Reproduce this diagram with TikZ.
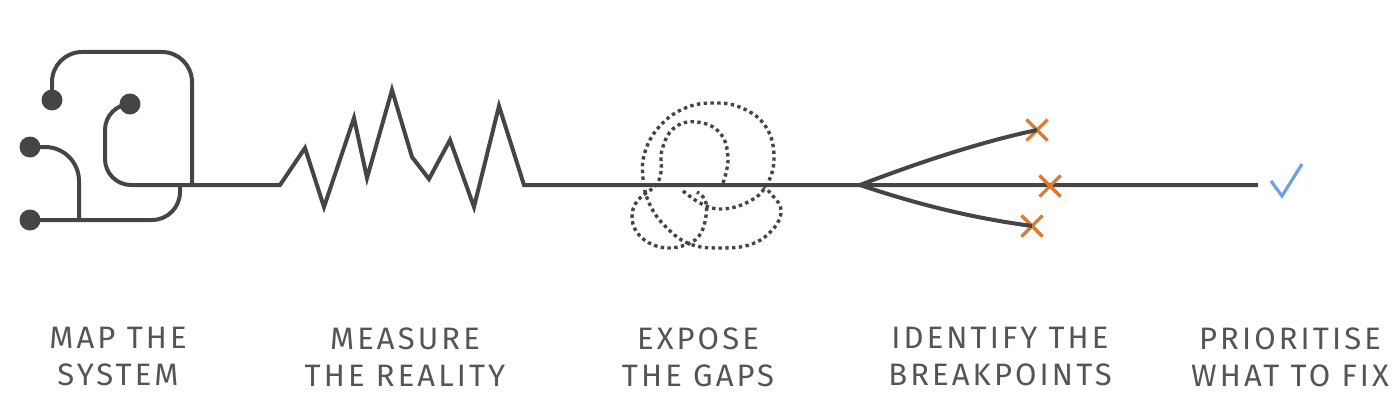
\documentclass[tikz,border=0pt]{standalone}
\usepackage{fontspec}
\setmainfont{Fira Sans}[LetterSpace=10]
\usetikzlibrary{shapes.misc}
\definecolor{ink}{HTML}{454545}
\definecolor{txt}{HTML}{555555}
\definecolor{warn}{HTML}{DF7A30}
\definecolor{ok}{HTML}{6FA3DD}
\begin{document}
\begin{tikzpicture}[x=1pt,y=-1pt,
  wire/.style={draw=ink,line width=4pt},
  knot/.style={draw=ink,line width=3.4pt,dash pattern=on 3.4pt off 3.4pt},
  dot/.style={circle,fill=ink,inner sep=0pt,minimum size=21pt},
  xmark/.style={cross out,draw=warn,line width=3.2pt,inner sep=0pt,minimum size=18pt},
  tick/.style={draw=ok,line width=3.2pt},
  lbl/.style={text=txt,align=center,font=\fontsize{31}{37}\selectfont,inner sep=0pt}]
\useasboundingbox (0,0) rectangle (1392,412);

% map the system
\node[dot] (d1) at (52,100) {};
\node[dot] (d2) at (130,104) {};
\node[dot] (d3) at (30,147) {};
\node[dot] (d4) at (30,220) {};
\coordinate (j1) at (192,185);
\coordinate (j2) at (180,185);
\coordinate (zs) at (280,185);
\coordinate (ze) at (524,185);
\coordinate (fork) at (860,185);
\coordinate (lineend) at (1258,185);

\draw[wire,rounded corners=30pt] (d1.center) -- (52,52) -- (192,52) -- (j1);
\draw[wire,rounded corners=34pt] (d3.center) -- (79,147) -- (79,220);
\draw[wire,rounded corners=28pt] (d4.center) -- (180,220) -- (j2);
\draw[wire,rounded corners=26pt] (d2.center) -- (105,104) -- (105,185) [sharp corners] -- (zs)
  -- (305,148) -- (324,207) -- (354,118) -- (367,178) -- (392,90) -- (412,157)
  -- (429,179) -- (450,140) -- (474,207) -- (499,106) -- (ze) -- (fork) -- (lineend);

% expose the gaps
\draw[knot] plot[smooth,tension=0.7] coordinates {(683,191) (702,204) (722,209) (748,202) (766,186) (774,158) (766,127) (742,108) (712,103) (683,109) (659,127) (645,152) (643,178) (650,205) (667,228) (690,244) (720,248) (752,244) (774,228) (781,210) (773,196) (764,187)};
\draw[knot] plot[smooth,tension=0.7] coordinates {(723,183) (728,158) (720,133) (697,122) (674,128) (662,150) (661,172) (655,186) (638,200) (632,218) (640,236) (660,247) (682,246) (699,236) (706,216) (705,200) (697,192)};

% identify the breakpoints
\node[xmark] (x1) at (1037,130) {};
\node[xmark] (x2) at (1050,186) {};
\node[xmark] (x3) at (1032,226) {};
\draw[wire] (fork) .. controls (925,160) and (985,141) .. (x1.center);
\draw[wire] (fork) .. controls (925,207) and (980,219) .. (x3.center);

% prioritise
\coordinate (c1) at (1271,181);
\coordinate (c2) at (1282,196);
\coordinate (c3) at (1302,164);
\draw[tick] (c1) -- (c2) -- (c3);

% labels
\node[lbl] (l1) at (118,357) {MAP THE\\SYSTEM};
\node[lbl] (l2) at (405,357) {MEASURE\\THE REALITY};
\node[lbl] (l3) at (698,357) {EXPOSE\\THE GAPS};
\node[lbl] (l4) at (1000,357) {IDENTIFY THE\\BREAKPOINTS};
\node[lbl] (l5) at (1290,357) {PRIORITISE\\WHAT TO FIX};
\end{tikzpicture}
\end{document}
